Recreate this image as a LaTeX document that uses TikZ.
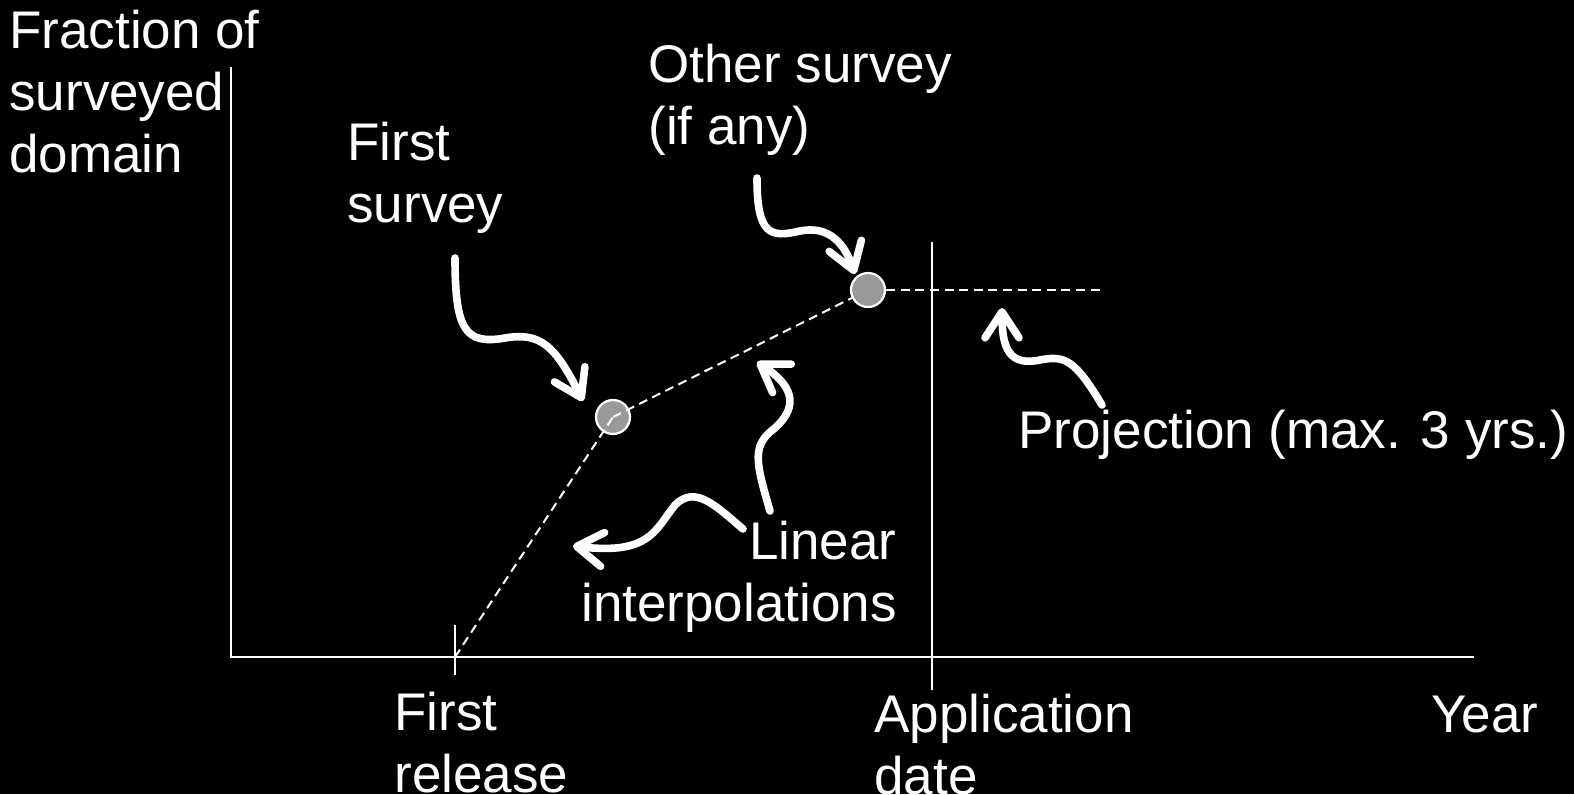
\documentclass[tikz,border=0pt]{standalone}
\usepackage{fontspec}
\setmainfont{Liberation Sans}
\usetikzlibrary{arrows.meta}
\definecolor{dotgray}{HTML}{999999}
\begin{document}
\begin{tikzpicture}[x=0.5pt,y=-0.5pt,
  lbl/.style={text=white,inner sep=0pt,font=\fontsize{26.5}{31}\selectfont},
  axisline/.style={draw=white,line width=1pt},
  dashline/.style={draw=white,line width=1pt,dash pattern=on 4.5pt off 2.8pt},
  surveydot/.style={circle,fill=dotgray,draw=white,line width=1.1pt,minimum size=17pt,inner sep=0pt},
  curly/.style={draw=white,line width=3.8pt,line cap=round,-{Straight Barb[length=13pt,width=17pt,round]}}]
\fill[black] (0,0) rectangle (1574,794);
\clip (0,0) rectangle (1574,794);
\useasboundingbox (0,0) rectangle (1574,794);
% axes
\coordinate (origin) at (231,657);
\coordinate (ytop) at (231,67);
\coordinate (xend) at (1474,657);
\draw[axisline] (ytop) -- (origin) -- (xend);
\coordinate (reltop) at (455,625);
\coordinate (relbot) at (455,675);
\draw[axisline] (reltop) -- (relbot);
\coordinate (apptop) at (932,242);
\coordinate (appbot) at (932,690);
\draw[axisline] (apptop) -- (appbot);
% dots and dashed lines
\coordinate (rel) at (455,657);
\coordinate (projend) at (1104,290);
\node[surveydot] (s1) at (613,417) {};
\node[surveydot] (s2) at (868,290) {};
\draw[dashline] (s1.center) -- (s2);
\draw[dashline] (s2) -- (projend);
\draw[dashline] (rel) -- (s1.center);
% labels
\node[lbl,anchor=base west] (ylab) at (9,48) {\begin{tabular}[t]{@{}l@{}}Fraction of\\surveyed\\domain\end{tabular}};
\node[lbl,anchor=base west] (first) at (347,160) {\begin{tabular}[t]{@{}l@{}}First\\survey\end{tabular}};
\node[lbl,anchor=base west] (other) at (648,82) {\begin{tabular}[t]{@{}l@{}}Other survey\\(if any)\end{tabular}};
\node[lbl,anchor=base west] (proj) at (1018,448) {Projection (max. 3 yrs.)};
\node[lbl,anchor=base east] (lin) at (897,559) {\begin{tabular}[t]{@{}r@{}}Linear\\interpolations\end{tabular}};
\node[lbl,anchor=base west] (release) at (394,730) {\begin{tabular}[t]{@{}l@{}}First\\release\end{tabular}};
\node[lbl,anchor=base west] (appdate) at (874,732) {\begin{tabular}[t]{@{}l@{}}Application\\date\end{tabular}};
\node[lbl,anchor=base west] (year) at (1431,732) {Year};
% curly arrows
\coordinate (a1s) at (455,258); \coordinate (a1e) at (583,401);
\draw[curly] (a1s) .. controls (455,330) and (465,345) .. (505,338) .. controls (540,332) and (555,345) .. (a1e);
\coordinate (a2s) at (757,178); \coordinate (a2e) at (855,274);
\draw[curly] (a2s) .. controls (757,235) and (770,238) .. (800,231) .. controls (830,225) and (845,245) .. (a2e);
\coordinate (a3s) at (1102,405); \coordinate (a3e) at (1002,308);
\draw[curly] (a3s) .. controls (1075,360) and (1065,355) .. (1040,360) .. controls (1010,366) and (1002,350) .. (a3e);
\coordinate (a4s) at (770,511); \coordinate (a4e) at (757,362);
\draw[curly] (a4s) .. controls (755,460) and (752,445) .. (775,428) .. controls (800,405) and (792,385) .. (a4e);
\coordinate (a5s) at (743,529); \coordinate (a5e) at (573,546);
\draw[curly] (a5s) .. controls (715,505) and (695,485) .. (675,505) .. controls (655,530) and (650,555) .. (a5e);
\end{tikzpicture}
\end{document}
